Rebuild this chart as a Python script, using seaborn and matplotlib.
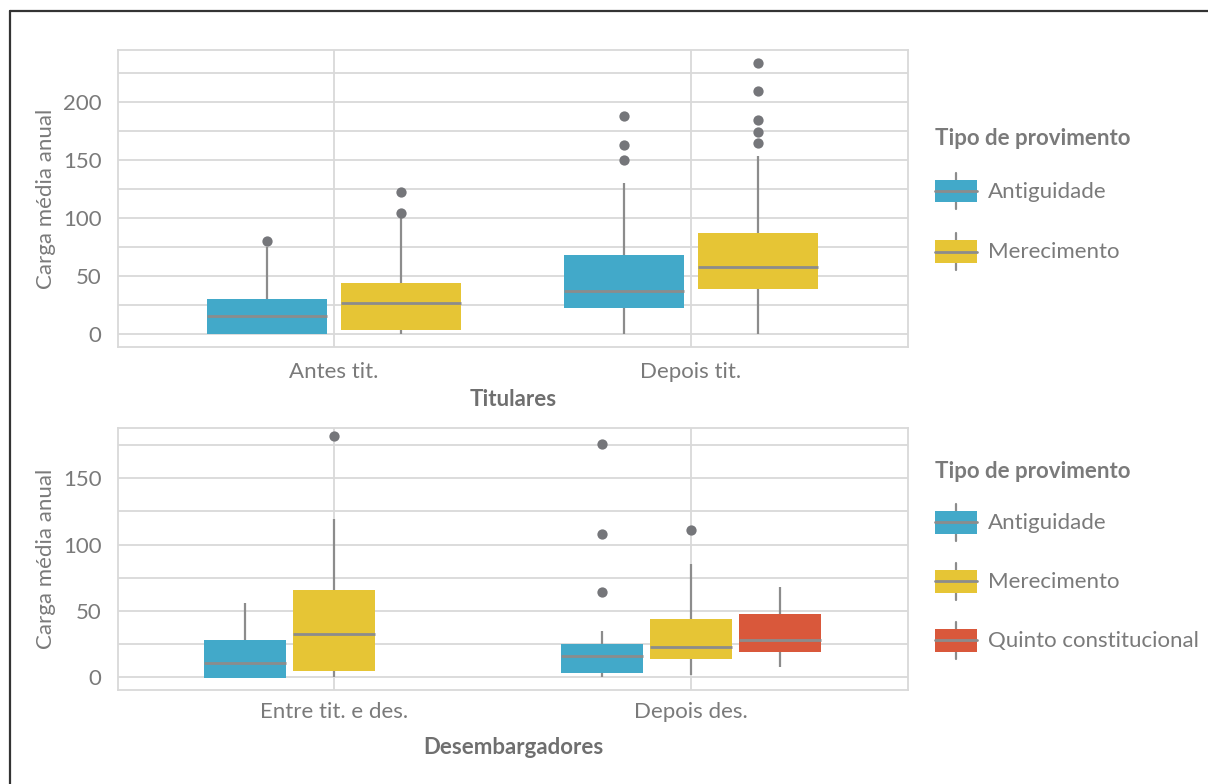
import numpy as np
import pandas as pd
import seaborn as sns
import matplotlib.pyplot as plt
from matplotlib.legend_handler import HandlerBase
from matplotlib.patches import Rectangle
from matplotlib.lines import Line2D
from matplotlib.ticker import MultipleLocator

# ---------------- data ----------------
tipos = ["Antiguidade", "Merecimento", "Quinto constitucional"]
cores = ["#42A9C9", "#E6C535", "#D9583B"]

cat_tit = ["Antes tit.", "Depois tit."]
cat_des = ["Entre tit. e des.", "Depois des."]

# Titulares
antes_antiguidade = [0, 0, 0, 0, 5, 10, 15.5, 20, 25, 30, 45, 75, 80]
antes_merecimento = [0, 1, 2, 4, 12, 20, 27.3, 33, 38, 44, 101, 104.5, 122.5]
depois_tit_antiguidade = [0, 5, 10, 16, 22.7, 27, 31, 34, 37.3, 45, 52, 60, 68,
                          130, 150, 163, 188]
depois_tit_merecimento = [0, 8, 15, 22, 28, 34, 39, 42, 46, 50, 53, 56, 58,
                          62, 67, 72, 77, 82, 87, 154, 165, 174.5, 184.5, 209.7, 233.4]

# Desembargadores
entre_antiguidade = [-1, -1, -1, -1, 3, 7, 10.6, 16, 22, 27.7, 35, 45, 55.8]
entre_merecimento = [0, 1.5, 3, 4.5, 14, 24, 32.4, 43, 55, 65.4, 90, 118.9, 181.7]
depois_des_antiguidade = [0, 1, 2, 2.5, 3, 7, 10, 13, 15.6, 18, 20, 22.5, 24.7,
                          34.5, 63.9, 107.6, 175.7]
depois_des_merecimento = [1.3, 6, 10, 13.6, 17, 20, 22.6, 29, 36, 43.5, 60, 85, 110.9]
depois_des_quinto = [7.3, 12, 15.5, 18.6, 22, 25, 28.2, 33, 40, 47.3, 55, 62, 67.6]


def frame(groups):
    rows = []
    for cat, tipo, vals in groups:
        for v in vals:
            rows.append({"cat": cat, "tipo": tipo, "carga": v})
    return pd.DataFrame(rows)


df_tit = frame([
    (cat_tit[0], tipos[0], antes_antiguidade),
    (cat_tit[0], tipos[1], antes_merecimento),
    (cat_tit[1], tipos[0], depois_tit_antiguidade),
    (cat_tit[1], tipos[1], depois_tit_merecimento),
])
df_des = frame([
    (cat_des[0], tipos[0], entre_antiguidade),
    (cat_des[0], tipos[1], entre_merecimento),
    (cat_des[1], tipos[0], depois_des_antiguidade),
    (cat_des[1], tipos[1], depois_des_merecimento),
    (cat_des[1], tipos[2], depois_des_quinto),
])

# ---------------- style ----------------
sns.set_theme(style="white")
plt.rcParams["font.family"] = ["Lato", "DejaVu Sans"]
TXT = "#7A7A7A"
GRID = "#D9D9D9"
LINE = "#8C8C8C"
FLIER = "#75767A"

fig = plt.figure(figsize=(12.08, 7.84), dpi=100)
W, H = 1208, 784


def axes_px(l, t, r, b):
    return fig.add_axes([l / W, 1 - b / H, (r - l) / W, (b - t) / H])


ax1 = axes_px(118, 50, 908, 347)
ax2 = axes_px(118, 428, 908, 689.5)

common = dict(
    x="cat", y="carga", hue="tipo", saturation=1, whis=1.5,
    linecolor=LINE, linewidth=1.6, showcaps=False, legend=False,
    flierprops=dict(marker="o", markersize=7.4, markerfacecolor=FLIER,
                    markeredgecolor="none"),
    medianprops=dict(color=LINE, linewidth=2.0),
    whiskerprops=dict(color=LINE, linewidth=1.6),
)

sns.boxplot(data=df_tit, ax=ax1, order=cat_tit, hue_order=tipos[:2],
            palette=cores[:2], width=0.75, gap=0.1, **common)
sns.boxplot(data=df_des, ax=ax2, order=cat_des, hue_order=tipos,
            palette=cores, width=0.75, gap=0.08, **common)

for ax, ylim, xlabel, xpad, lpad in [(ax1, (-11, 245), "Titulares", 11, 5),
                                     (ax2, (-9.5, 188), "Desembargadores", 9, 11)]:
    for p in ax.patches:
        p.set_edgecolor("none")
        p.set_linewidth(0)
    ax.set_xlim(-0.605, 1.608)
    ax.set_ylim(*ylim)
    ax.yaxis.set_major_locator(MultipleLocator(50))
    ax.yaxis.set_minor_locator(MultipleLocator(25))
    ax.grid(True, which="both", axis="y", color=GRID, linewidth=1.3)
    ax.grid(True, which="major", axis="x", color=GRID, linewidth=1.3)
    ax.set_axisbelow(True)
    for s in ax.spines.values():
        s.set_visible(True)
        s.set_color(GRID)
        s.set_linewidth(1.3)
    ax.tick_params(axis="both", which="both", length=0, colors=TXT)
    ax.tick_params(axis="y", pad=12, labelsize=16)
    ax.tick_params(axis="x", pad=xpad, labelsize=16)
    ax.set_ylabel("Carga média anual", color=TXT, fontsize=16, labelpad=5)
    ax.set_xlabel(xlabel, color="#6F6F6F", fontsize=16, fontweight="bold",
                  labelpad=lpad)


# ---------------- legend with box-shaped handles ----------------
class BoxHandler(HandlerBase):
    def __init__(self, color):
        super().__init__()
        self.color = color

    def create_artists(self, legend, orig_handle, xdescent, ydescent,
                       width, height, fontsize, trans):
        cx = width / 2 - xdescent
        cy = height / 2 - ydescent
        bh = height * 0.62
        whisk = Line2D([cx, cx], [cy - height * 0.5, cy + height * 0.5],
                       color=LINE, linewidth=1.6, transform=trans)
        rect = Rectangle((-xdescent, cy - bh / 2), width, bh,
                         facecolor=self.color, edgecolor="none",
                         transform=trans)
        med = Line2D([-xdescent, width - xdescent], [cy, cy], color=LINE,
                     linewidth=2.0, transform=trans)
        return [whisk, rect, med]


def add_legend(ax, n, top_px, spacing):
    handles = [Rectangle((0, 0), 1, 1) for _ in range(n)]
    hmap = {h: BoxHandler(c) for h, c in zip(handles, cores[:n])}
    leg = ax.legend(handles, tipos[:n], handler_map=hmap,
                    title="Tipo de provimento", loc="upper left",
                    bbox_to_anchor=(915 / W, 1 - top_px / H),
                    bbox_transform=fig.transFigure, frameon=False,
                    fontsize=16, title_fontsize=16, alignment="left",
                    handlelength=1.9, handleheight=2.18, handletextpad=0.5,
                    labelspacing=spacing)
    leg.get_title().set_color(TXT)
    leg.get_title().set_fontweight("bold")
    for t in leg.get_texts():
        t.set_color(TXT)
    leg.set_clip_on(False)
    return leg


add_legend(ax1, 2, 108, 1.06)
add_legend(ax2, 3, 441, 0.99)

# outer frame (left and top edges visible)
fig.add_artist(Line2D([10 / W, 10 / W], [0, 1 - 11 / H],
                      transform=fig.transFigure, color="#333333",
                      linewidth=1.6))
fig.add_artist(Line2D([10 / W, 1], [1 - 11 / H, 1 - 11 / H],
                      transform=fig.transFigure, color="#333333",
                      linewidth=1.6))

fig.savefig("out.png", dpi=100)
